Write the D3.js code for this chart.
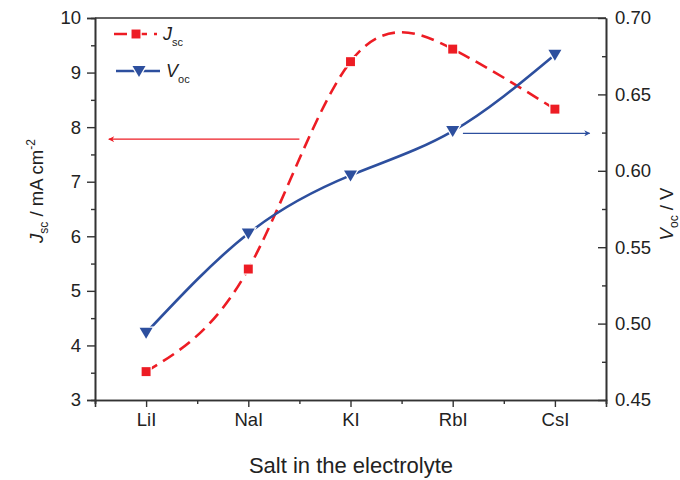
<!DOCTYPE html>
<html>
<head>
<meta charset="utf-8">
<script src="https://cdn.jsdelivr.net/npm/d3@7"></script>
<style>
  body { margin: 0; background: #fff; }
  text { font-family: "Liberation Sans", Arial, sans-serif; fill: #222; }
</style>
</head>
<body>
<div id="chart"></div>
<script>
let salts = ["LiI", "NaI", "KI", "RbI", "CsI"];
let jsc = [3.52, 5.4, 9.2, 9.43, 8.33];
let voc = [0.494, 0.559, 0.597, 0.626, 0.676];
let leftTicks = [3, 4, 5, 6, 7, 8, 9, 10];
let rightTicks = [0.45, 0.50, 0.55, 0.60, 0.65, 0.70];

let red = "#ed1c24";
let blue = "#2d4f9e";

function ready(fn) {
  if (document.readyState != 'loading'){
    fn();
  } else {
    document.addEventListener('DOMContentLoaded', fn);
  }
}
ready(main);

function main() {
  let width = 680, height = 480;
  let margin = ({top: 18, right: 74, bottom: 80, left: 95});

  const svg = d3.select("#chart").append("svg")
    .attr("width", width)
    .attr("height", height);

  let x = d3.scaleLinear()
    .domain([0.5, 5.5])
    .range([margin.left, width - margin.right]);
  let yL = d3.scaleLinear()
    .domain([3, 10])
    .range([height - margin.bottom, margin.top]);
  let yR = d3.scaleLinear()
    .domain([0.45, 0.70])
    .range([height - margin.bottom, margin.top]);

  let axisColor = "#333";

  function styleAxis(g) {
    g.select(".domain").attr("stroke", axisColor).attr("stroke-width", 1.6);
    g.selectAll(".tick line").attr("stroke", axisColor).attr("stroke-width", 1.4);
    g.selectAll(".tick text").attr("font-size", 18.5).attr("fill", "#222")
      .attr("font-family", "Liberation Sans, Arial, sans-serif");
  }

  // bottom axis (minor, then major with labels)
  svg.append("g")
    .attr("transform", `translate(0,${height - margin.bottom})`)
    .call(d3.axisBottom(x).tickValues([0.5, 1.5, 2.5, 3.5, 4.5, 5.5]).tickSize(4).tickFormat(""))
    .call(styleAxis);
  svg.append("g")
    .attr("transform", `translate(0,${height - margin.bottom})`)
    .call(d3.axisBottom(x).tickValues([1, 2, 3, 4, 5]).tickSize(7).tickPadding(6)
      .tickFormat((d, i) => salts[i]))
    .call(styleAxis);

  // left axis
  let leftMinor = d3.range(3.5, 10, 1);
  svg.append("g")
    .attr("transform", `translate(${margin.left},0)`)
    .call(d3.axisLeft(yL).tickValues(leftMinor).tickSize(4).tickFormat(""))
    .call(styleAxis);
  svg.append("g")
    .attr("transform", `translate(${margin.left},0)`)
    .call(d3.axisLeft(yL).tickValues(leftTicks).tickSize(8).tickPadding(6).tickFormat(d3.format("d")))
    .call(styleAxis);

  // right axis, ticks point inward
  let rightMinor = [0.475, 0.525, 0.575, 0.625, 0.675];
  svg.append("g")
    .attr("transform", `translate(${width - margin.right},0)`)
    .call(d3.axisRight(yR).tickValues(rightMinor).tickSizeInner(-4).tickSizeOuter(0).tickFormat(""))
    .call(styleAxis);
  svg.append("g")
    .attr("transform", `translate(${width - margin.right},0)`)
    .call(d3.axisRight(yR).tickValues(rightTicks).tickSizeInner(-8).tickSizeOuter(0).tickPadding(9)
      .tickFormat(d3.format(".2f")))
    .call(styleAxis);

  // top frame line
  svg.append("line")
    .attr("x1", margin.left).attr("x2", width - margin.right)
    .attr("y1", margin.top).attr("y2", margin.top)
    .attr("stroke", axisColor).attr("stroke-width", 1.6);

  // arrows pointing to the axis of each series
  let defs = svg.append("defs");
  [["arrRed", red], ["arrBlue", blue]].forEach(function(a){
    defs.append("marker")
      .attr("id", a[0])
      .attr("viewBox", "0 0 10 10")
      .attr("refX", 9).attr("refY", 5)
      .attr("markerWidth", 11).attr("markerHeight", 6)
      .attr("markerUnits", "userSpaceOnUse")
      .attr("orient", "auto")
      .append("path")
      .attr("d", "M0,0 L10,5 L0,10 L3,5 Z")
      .attr("fill", a[1]);
  });
  svg.append("line")
    .attr("x1", x(2.5)).attr("x2", x(0.635))
    .attr("y1", yL(7.78)).attr("y2", yL(7.78))
    .attr("stroke", red).attr("stroke-width", 1.2)
    .attr("marker-end", "url(#arrRed)");
  svg.append("line")
    .attr("x1", x(4.1)).attr("x2", x(5.34))
    .attr("y1", yR(0.6245)).attr("y2", yR(0.6245))
    .attr("stroke", blue).attr("stroke-width", 1.2)
    .attr("marker-end", "url(#arrBlue)");

  // curves
  let lineJ = d3.line()
    .x((d, i) => x(i + 1))
    .y(d => yL(d))
    .curve(d3.curveNatural);
  let lineV = d3.line()
    .x((d, i) => x(i + 1))
    .y(d => yR(d))
    .curve(d3.curveNatural);

  svg.append("path")
    .datum(jsc)
    .attr("d", lineJ)
    .attr("fill", "none")
    .attr("stroke", red)
    .attr("stroke-width", 2.6)
    .attr("stroke-dasharray", "13,7");
  svg.append("path")
    .datum(voc)
    .attr("d", lineV)
    .attr("fill", "none")
    .attr("stroke", blue)
    .attr("stroke-width", 2.6);

  let square = d3.symbol().type(d3.symbolSquare).size(80);
  let tri = "M-6.5,-5 L6.5,-5 L0,6 Z";

  svg.append("g")
    .selectAll("path")
    .data(jsc)
    .join("path")
    .attr("transform", (d, i) => `translate(${x(i + 1)},${yL(d)})`)
    .attr("d", square)
    .attr("fill", red)
    .attr("stroke", "#fff")
    .attr("stroke-width", 2.5)
    .attr("paint-order", "stroke");
  svg.append("g")
    .selectAll("path")
    .data(voc)
    .join("path")
    .attr("transform", (d, i) => `translate(${x(i + 1)},${yR(d)})`)
    .attr("d", tri)
    .attr("fill", blue)
    .attr("stroke", "#fff")
    .attr("stroke-width", 2.5)
    .attr("paint-order", "stroke");

  // legend
  let leg = svg.append("g");
  leg.append("line")
    .attr("x1", 114).attr("x2", 157).attr("y1", 34).attr("y2", 34)
    .attr("stroke", red).attr("stroke-width", 2.6).attr("stroke-dasharray", "13,7");
  leg.append("path")
    .attr("transform", "translate(136,34)")
    .attr("d", square)
    .attr("fill", red).attr("stroke", "#fff").attr("stroke-width", 2.5).attr("paint-order", "stroke");
  let t1 = leg.append("text").attr("x", 163).attr("y", 40).attr("font-size", 18);
  t1.append("tspan").attr("font-style", "italic").text("J");
  t1.append("tspan").attr("font-size", 11).attr("dy", 6).text("sc");

  leg.append("line")
    .attr("x1", 116).attr("x2", 160).attr("y1", 71).attr("y2", 71)
    .attr("stroke", blue).attr("stroke-width", 2.6);
  leg.append("path")
    .attr("transform", "translate(139,71)")
    .attr("d", tri)
    .attr("fill", blue).attr("stroke", "#fff").attr("stroke-width", 2.5).attr("paint-order", "stroke");
  let t2 = leg.append("text").attr("x", 166).attr("y", 77).attr("font-size", 18);
  t2.append("tspan").attr("font-style", "italic").text("V");
  t2.append("tspan").attr("font-size", 11).attr("dy", 6).text("oc");

  // axis titles
  svg.append("text")
    .attr("x", 351)
    .attr("y", 473)
    .attr("text-anchor", "middle")
    .attr("font-size", 22)
    .text("Salt in the electrolyte");

  let yl = svg.append("text")
    .attr("transform", "translate(43,191) rotate(-90)")
    .attr("text-anchor", "middle")
    .attr("font-size", 18.5);
  yl.append("tspan").attr("font-style", "italic").text("J");
  yl.append("tspan").attr("font-size", 12).attr("dy", 5).text("sc");
  yl.append("tspan").attr("dy", -5).text(" / mA cm");
  yl.append("tspan").attr("font-size", 12).attr("dy", -8).text("-2");

  let yr = svg.append("text")
    .attr("transform", "translate(673,214) rotate(-90)")
    .attr("text-anchor", "middle")
    .attr("font-size", 18.5);
  yr.append("tspan").attr("font-style", "italic").text("V");
  yr.append("tspan").attr("font-size", 12).attr("dy", 5).text("oc");
  yr.append("tspan").attr("dy", -5).text(" / V");
}
</script>
</body>
</html>
